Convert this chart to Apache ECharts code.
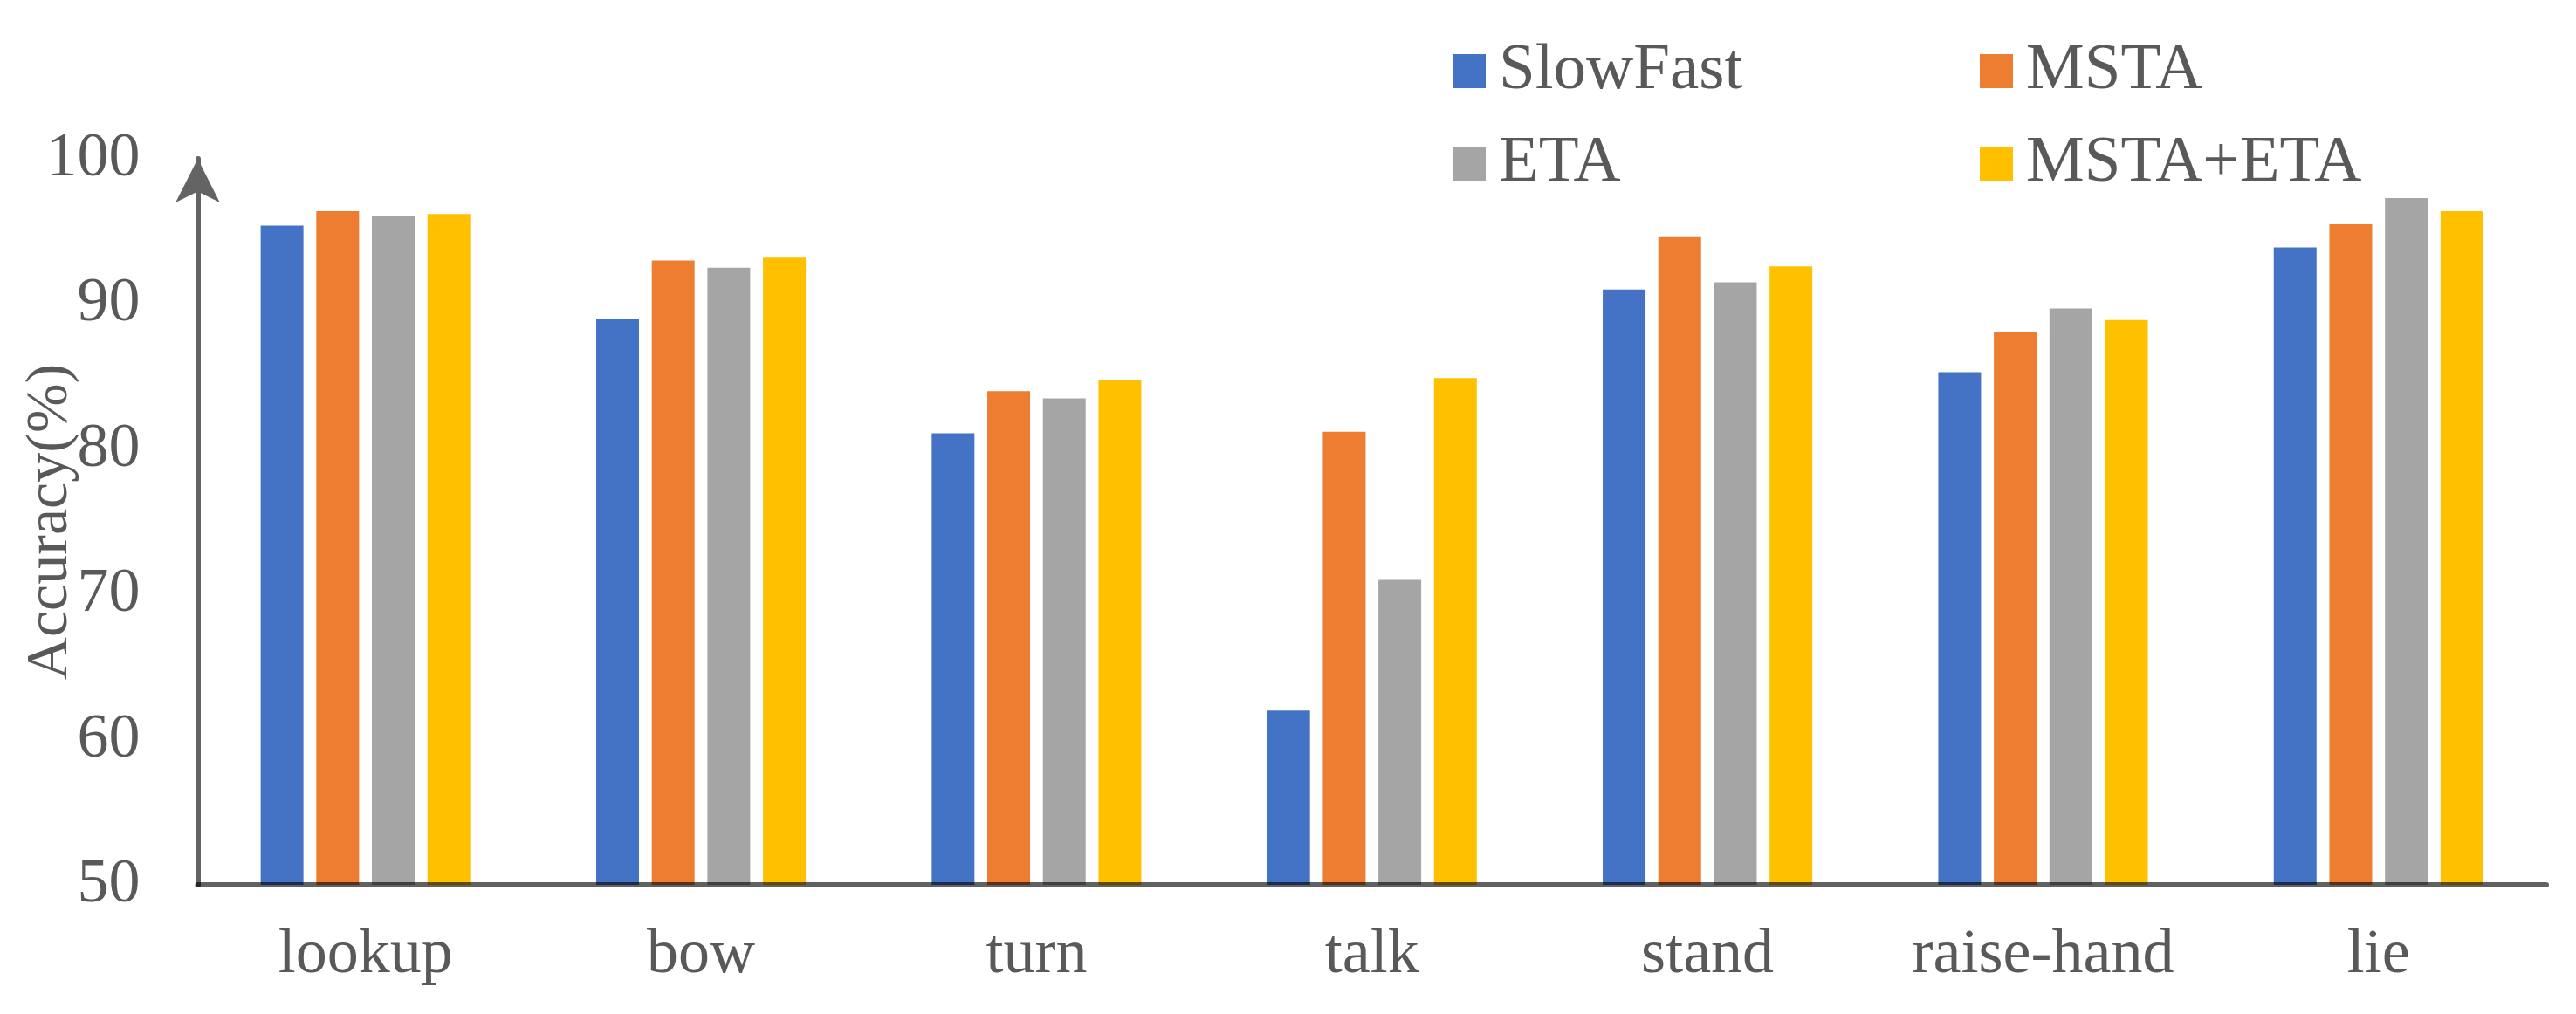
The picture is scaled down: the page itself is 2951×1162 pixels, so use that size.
<!DOCTYPE html>
<html>
<head>
<meta charset="utf-8">
<script src="https://cdn.jsdelivr.net/npm/echarts@6/dist/echarts.min.js"></script>
<style>
html,body{margin:0;padding:0;background:#fff;}
#chart{width:2951px;height:1162px;}
</style>
</head>
<body>
<div id="chart"></div>
<script>
const categories = ['lookup', 'bow', 'turn', 'talk', 'stand', 'raise-hand', 'lie'];
const seriesNames = ['SlowFast', 'MSTA', 'ETA', 'MSTA+ETA'];
const slowFast = [95.4, 89.0, 81.1, 62.0, 91.0, 85.3, 93.9];
const msta     = [96.4, 93.0, 84.0, 81.2, 94.6, 88.1, 95.5];
const eta      = [96.1, 92.5, 83.5, 71.0, 91.5, 89.7, 97.3];
const mstaEta  = [96.2, 93.2, 84.8, 84.9, 92.6, 88.9, 96.4];
const colors = ['#4472C4', '#ED7D31', '#A5A5A5', '#FFC000'];
const yTicks = [50, 60, 70, 80, 90, 100];

const font = 'Liberation Serif';
const textColor = '#595959';
const chart = echarts.init(document.getElementById('chart'));
const values = [slowFast, msta, eta, mstaEta];

const legendBase = {
  orient: 'horizontal',
  left: 1664,
  padding: 0,
  itemWidth: 38,
  itemHeight: 39,
  itemGap: 71,
  icon: 'rect',
  textStyle: {
    fontFamily: font, fontSize: 75, color: textColor,
    width: 480, lineHeight: 76, padding: [0, 0, 0, 10]
  }
};

chart.setOption({
  backgroundColor: '#ffffff',
  animation: false,
  color: colors,
  legend: [
    Object.assign({}, legendBase, {top: 43.5, data: [seriesNames[0], seriesNames[1]]}),
    Object.assign({}, legendBase, {top: 149.5, data: [seriesNames[2], seriesNames[3]]})
  ],
  grid: {left: 226.5, right: 34, top: 182, bottom: 148, containLabel: false, outerBoundsMode: 'none'},
  xAxis: {
    type: 'category',
    data: categories,
    z: 10,
    axisLine: {show: true, lineStyle: {color: 'rgba(0,0,0,0.62)', width: 6}},
    axisTick: {show: false},
    axisLabel: {fontFamily: font, fontSize: 72, color: textColor, margin: 45, interval: 0}
  },
  yAxis: {
    type: 'value',
    min: yTicks[0],
    max: yTicks[yTicks.length - 1],
    interval: 10,
    name: 'Accuracy(%)',
    nameLocation: 'middle',
    nameRotate: 90,
    nameGap: 134,
    nameMoveOverlap: false,
    nameTextStyle: {fontFamily: font, fontSize: 68, color: textColor},
    splitLine: {show: false},
    axisTick: {show: false},
    axisLine: {
      show: true,
      symbol: ['none', 'arrow'],
      symbolSize: [38, 50],
      symbolOffset: [0, 0],
      lineStyle: {color: '#646464', width: 6}
    },
    axisLabel: {fontFamily: font, fontSize: 72, color: textColor, margin: 66}
  },
  series: seriesNames.map((name, i) => ({
    name: name,
    type: 'bar',
    data: values[i],
    barWidth: 49,
    barGap: '30%',
    itemStyle: {color: colors[i]}
  }))
});
</script>
</body>
</html>
